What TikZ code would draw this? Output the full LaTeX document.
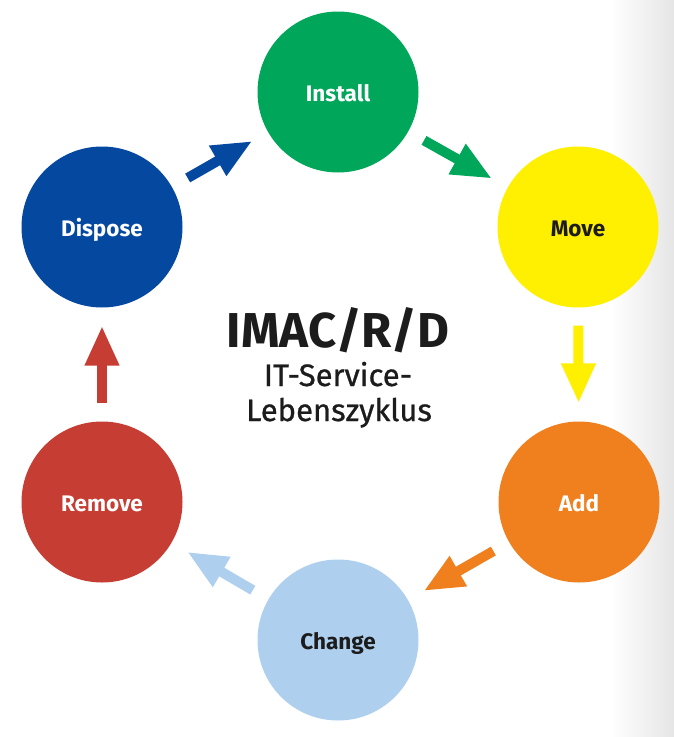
\documentclass[tikz,border=0pt]{standalone}
\usepackage{fontspec}
\setmainfont{Fira Sans}
\newfontfamily\firamed[FakeBold=0.8]{Fira Sans}
\usetikzlibrary{arrows.meta}
\definecolor{cInstall}{HTML}{00A65A}
\definecolor{cMove}{HTML}{FFEF00}
\definecolor{cAdd}{HTML}{F0801E}
\definecolor{cChange}{HTML}{AED0EE}
\definecolor{cRemove}{HTML}{C63E33}
\definecolor{cDispose}{HTML}{0548A0}
\definecolor{cText}{HTML}{1C1C1C}
\begin{document}
\begin{tikzpicture}[x=1pt,y=-1pt,
  phase/.style={circle, minimum size=161pt, inner sep=0pt, text height=18pt, text depth=0pt,
    font=\fontsize{22.5}{26}\selectfont\bfseries},
  flow/.style={line width=10pt, -{Triangle[width=32pt,length=40pt]}, shorten <=18pt, shorten >=18pt},
  title/.style={anchor=base, text=cText}]
\fill[white] (0,0) rectangle (674,737);
\shade[left color=white, right color=black!10] (610,0) rectangle (674,737);
\node[phase, fill=cInstall, text=white] (install) at (338,92) {Install};
\node[phase, fill=cMove, text=cText] (move) at (578,227) {Move};
\node[phase, fill=cAdd, text=white] (add) at (579,502) {Add};
\node[phase, fill=cChange, text=cText] (change) at (338,640) {Change};
\node[phase, fill=cRemove, text=white] (remove) at (102,502) {Remove};
\node[phase, fill=cDispose, text=white] (dispose) at (102,227) {Dispose};
\draw[flow, draw=cInstall, fill=cInstall] (install) -- (move);
\draw[flow, draw=cMove, fill=cMove] (move) -- (add);
\draw[flow, draw=cAdd, fill=cAdd] (add) -- (change);
\draw[flow, draw=cChange, fill=cChange] (change) -- (remove);
\draw[flow, draw=cRemove, fill=cRemove] (remove) -- (dispose);
\draw[flow, draw=cDispose, fill=cDispose] (dispose) -- (install);
\node[title, font=\fontsize{49}{52}\selectfont\bfseries] (t1) at (338,347) {IMAC/R/D};
\node[title, font=\fontsize{31}{35}\selectfont\firamed] (t2) at (338,386) {IT-Service-};
\node[title, font=\fontsize{31}{35}\selectfont\firamed] (t3) at (339,421) {Lebenszyklus};
\end{tikzpicture}
\end{document}
